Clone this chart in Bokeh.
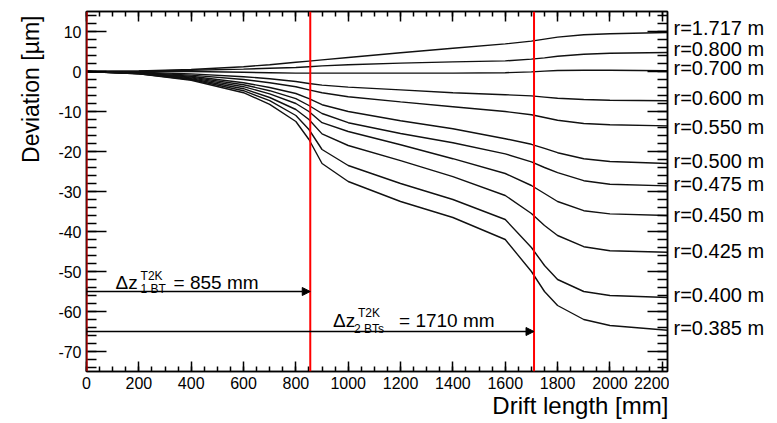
from bokeh.plotting import figure
from bokeh.layouts import row
from bokeh.models import (LinearAxis, SingleIntervalTicker, Span, Label, Arrow,
                          NormalHead, TeeHead, Range1d)
from bokeh.core.properties import value
from bokeh.embed import file_html
from bokeh.resources import INLINE

# ---------------- data ----------------
drift_mm = [0, 200, 400, 600, 700, 800, 850, 900, 1000, 1200, 1400, 1600, 1700, 1750, 1800, 1900, 2000, 2220]

radii = ["1.717", "0.800", "0.700", "0.600", "0.550", "0.500", "0.475", "0.450", "0.425", "0.400", "0.385"]

dev_r1717 = [0, 0.15, 0.5, 1.2, 1.7, 2.3, 2.6, 2.9, 3.5, 4.7, 5.8, 6.9, 7.6, 8.1, 8.6, 9.2, 9.45, 9.75]
dev_r0800 = [0, 0.1, 0.3, 0.6, 0.8, 1.0, 1.2, 1.4, 1.7, 2.1, 2.4, 2.65, 3.1, 3.4, 3.8, 4.3, 4.55, 4.75]
dev_r0700 = [0, 0, 0, -0.2, -0.3, -0.4, -0.4, -0.4, -0.4, -0.4, -0.4, -0.3, -0.1, 0.1, 0.25, 0.3, 0.3, 0.2]
dev_r0600 = [0, -0.2, -0.6, -1.3, -1.8, -2.5, -3.0, -3.4, -3.9, -4.6, -5.3, -5.8, -6.1, -6.4, -6.7, -7.0, -7.2, -7.3]
dev_r0550 = [0, -0.3, -0.9, -2.0, -2.8, -3.8, -4.6, -5.3, -6.3, -7.6, -8.8, -10.0, -10.8, -11.5, -12.2, -13.0, -13.3, -13.6]
dev_r0500 = [0, -0.4, -1.2, -2.8, -4.0, -5.5, -6.8, -8.3, -10.0, -12.3, -14.3, -16.8, -18.2, -19.2, -20.3, -21.8, -22.5, -23.0]
dev_r0475 = [0, -0.4, -1.4, -3.3, -4.8, -6.8, -8.5, -10.5, -12.8, -15.5, -17.8, -20.6, -22.6, -24.0, -25.3, -27.3, -28.2, -28.6]
dev_r0450 = [0, -0.5, -1.6, -3.8, -5.6, -8.0, -10.0, -12.8, -15.0, -18.3, -21.8, -25.5, -28.5, -30.5, -32.5, -34.8, -35.6, -36.0]
dev_r0425 = [0, -0.5, -1.8, -4.3, -6.5, -9.5, -12.0, -15.6, -18.5, -22.3, -26.3, -31.0, -35.5, -38.5, -41.0, -43.8, -44.8, -45.2]
dev_r0400 = [0, -0.6, -2.0, -4.8, -7.3, -11.0, -14.5, -19.5, -23.5, -28.0, -32.0, -37.0, -44.0, -48.5, -52.0, -55.0, -56.0, -56.5]
dev_r0385 = [0, -0.6, -2.2, -5.3, -8.2, -12.5, -17.0, -23.0, -27.5, -32.5, -36.5, -42.0, -50.0, -55.0, -58.5, -62.0, -63.5, -64.7]

curves = [dev_r1717, dev_r0800, dev_r0700, dev_r0600, dev_r0550, dev_r0500,
          dev_r0475, dev_r0450, dev_r0425, dev_r0400, dev_r0385]

# label anchor values (deviation) for the right-hand radius labels
label_y = [10.9, 5.7, 0.9, -6.6, -13.8, -22.3, -28.1, -35.8, -44.8, -55.8, -64.1]
label_text = [f"r={r} m" for r in radii]

boundary_1bt = 855
boundary_2bt = 1710
arrow_y1 = -55
arrow_y2 = -65

X_MIN, X_MAX = 0, 2220
Y_MIN, Y_MAX = -75, 15
x_major = list(range(0, 2201, 200))
y_major = list(range(-70, 11, 10))

FONT = "Liberation Sans"
NBSP = "\u00a0"

# ---------------- main figure ----------------
BL, BT, BB = 86, 11, 50
FW, FH = 581, 360
W_MAIN = BL + FW + 2
H = BT + FH + BB
W_LAB = 775 - W_MAIN

yr = Range1d(Y_MIN, Y_MAX)
p = figure(width=W_MAIN, height=H, output_backend="svg", toolbar_location=None,
           x_range=Range1d(X_MIN, X_MAX), y_range=yr,
           min_border_left=BL, min_border_right=2, min_border_top=BT, min_border_bottom=BB,
           x_axis_location=None, y_axis_location=None)
p.xgrid.visible = False
p.ygrid.visible = False
p.outline_line_color = "black"
p.outline_line_width = 1.5
p.background_fill_color = "white"
p.border_fill_color = "white"


def make_axis(kind, loc, show_labels):
    tick = SingleIntervalTicker(interval=200 if kind == "x" else 10,
                                num_minor_ticks=4 if kind == "x" else 5)
    ax = LinearAxis(ticker=tick)
    ax.axis_line_color = "black"
    ax.axis_line_width = 1.5
    ax.major_tick_line_width = 1.5
    ax.minor_tick_line_width = 1.5
    ax.major_tick_out = 0
    ax.minor_tick_out = 0
    if kind == "x":
        ax.major_tick_in = 10
        ax.minor_tick_in = 5
    else:
        ax.major_tick_in = 20
        ax.minor_tick_in = 10
    vals = x_major if kind == "x" else y_major
    if show_labels:
        ax.major_label_overrides = {v: str(v) for v in vals}
        ax.major_label_text_font = FONT
        ax.major_label_text_font_size = "16px"
        ax.major_label_text_color = "black"
        ax.major_label_standoff = 5
    else:
        ax.major_label_overrides = {v: "" for v in vals}
        ax.major_label_standoff = 0
    p.add_layout(ax, loc)
    return ax


xax = make_axis("x", "below", True)
make_axis("x", "above", False)
yax = make_axis("y", "left", True)
make_axis("y", "right", False)

# axis titles (pushed towards the right end / top as in the reference)
xax.axis_label = NBSP * 61 + "Drift length [mm]"
xax.axis_label_text_font = FONT
xax.axis_label_text_font_size = "24px"
xax.axis_label_text_font_style = "normal"
xax.axis_label_text_color = "black"
xax.axis_label_standoff = 0

yax.axis_label = NBSP * 32 + "Deviation [\u00b5m]"
yax.axis_label_text_font = FONT
yax.axis_label_text_font_size = "23px"
yax.axis_label_text_font_style = "normal"
yax.axis_label_text_color = "black"
yax.axis_label_standoff = 11

# curves
for dev in curves:
    p.line(drift_mm, dev, line_color="#111111", line_width=1.4)

# red boundary lines
for xv in [0, boundary_1bt, boundary_2bt]:
    p.add_layout(Span(location=xv, dimension="height", line_color="#ff0000", line_width=2))

# arrows
for yv, xe in [(arrow_y1, boundary_1bt), (arrow_y2, boundary_2bt)]:
    p.add_layout(Arrow(x_start=0, y_start=yv, x_end=xe, y_end=yv, line_color="black", line_width=1.5,
                       start=TeeHead(size=7, line_color="black", line_width=1.5),
                       end=NormalHead(size=8, fill_color="black", line_color="black")))


def dz_label(x0, yb, sup, sub, rest, sup_dy, sub_dy, sub_dx, rest_dx):
    kw = dict(text_font=FONT, text_color="black", text_baseline="alphabetic")
    p.add_layout(Label(x=x0, y=yb, text="\u0394z", text_font_size="19px", **kw))
    p.add_layout(Label(x=x0, y=yb, x_offset=25, y_offset=sup_dy, text=sup, text_font_size="12px", **kw))
    p.add_layout(Label(x=x0, y=yb, x_offset=sub_dx, y_offset=sub_dy, text=sub, text_font_size="12px", **kw))
    p.add_layout(Label(x=x0, y=yb, x_offset=rest_dx, text=rest, text_font_size="19px", **kw))


dz_label(111, -52.8, "T2K", "1 BT", "= 855 mm", 7, -6, 25, 58)
dz_label(942, -62.3, "T2K", "2 BTs", "= 1710 mm", 8, -8, 21, 66)

# ---------------- right-hand radius labels (narrow companion figure, shared y scale) ----------------
q = figure(width=W_LAB, height=H, output_backend="svg", toolbar_location=None,
           x_range=Range1d(0, W_LAB), y_range=yr,
           min_border_left=0, min_border_right=0, min_border_top=BT, min_border_bottom=BB,
           x_axis_location=None, y_axis_location=None)
q.xgrid.visible = False
q.ygrid.visible = False
q.outline_line_color = None
q.background_fill_color = "white"
q.border_fill_color = "white"
q.text(x=[4] * len(label_y), y=label_y, text=label_text, text_font=value(FONT),
       text_font_size="20px", text_color="black", text_baseline="middle", text_align="left")

layout = row(p, q, spacing=0)
open("out.html", "w").write(file_html(layout, INLINE))
